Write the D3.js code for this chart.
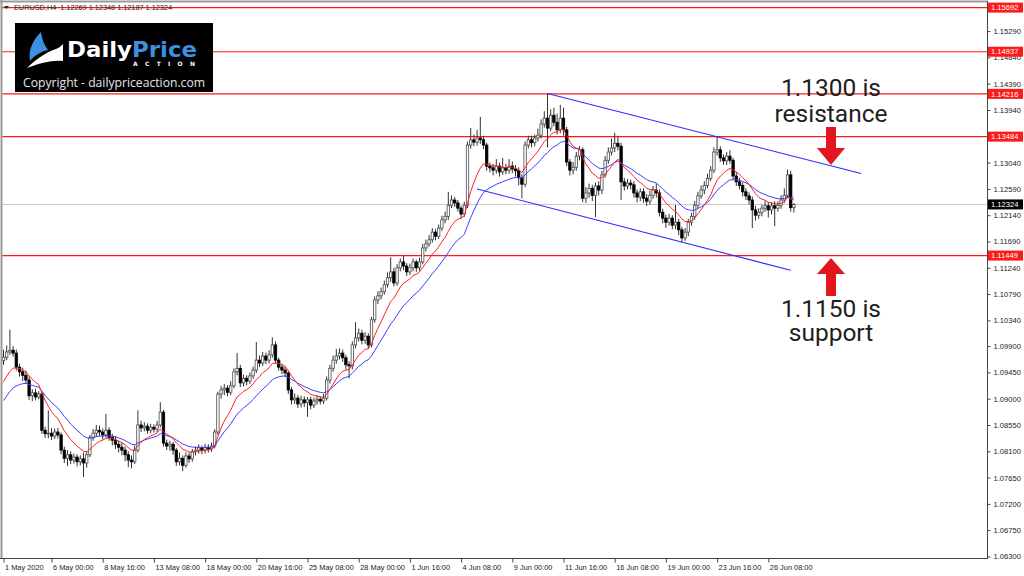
<!DOCTYPE html>
<html><head><meta charset="utf-8">
<script src="https://cdn.jsdelivr.net/npm/d3@7"></script>
<style>html,body{margin:0;padding:0;background:#fff;}svg{display:block;}</style>
</head><body>
<svg id="c" width="1024" height="576"></svg>
<script>
// ---------- DATA (EURUSD H4) ----------
const firstOpen = 1.0965;
const closePrice = [
1.0971,1.0980,1.0983,1.0978,1.0954,1.0946,1.0940,1.0932,1.0905,1.0910,
1.0903,1.0908,1.0846,1.0840,1.0841,1.0836,1.0843,1.0838,1.0812,1.0798,
1.0804,1.0795,1.0800,1.0792,1.0797,1.0790,1.0804,1.0833,1.0841,1.0846,
1.0843,1.0838,1.0846,1.0834,1.0829,1.0822,1.0817,1.0812,1.0804,1.0795,
1.0792,1.0812,1.0855,1.0850,1.0853,1.0846,1.0851,1.0848,1.0855,1.0877,
1.0824,1.0819,1.0822,1.0812,1.0792,1.0798,1.0786,1.0802,1.0797,1.0809,
1.0812,1.0816,1.0812,1.0817,1.0814,1.0819,1.0843,1.0908,1.0915,1.0918,
1.0911,1.0922,1.0946,1.0952,1.0927,1.0935,1.0930,1.0939,1.0949,1.0966,
1.0961,1.0973,1.0966,1.0975,1.0992,1.0966,1.0954,1.0949,1.0944,1.0915,
1.0898,1.0901,1.0891,1.0898,1.0893,1.0898,1.0889,1.0896,1.0899,1.0896,
1.0901,1.0932,1.0952,1.0966,1.0973,1.0978,1.0970,1.0958,1.0956,1.0992,
1.1004,1.1012,1.1000,1.1007,1.0992,1.1035,1.1069,1.1076,1.1083,1.1095,
1.1107,1.1117,1.1098,1.1124,1.1134,1.1127,1.1117,1.1124,1.1134,1.1124,
1.1134,1.1158,1.1165,1.1172,1.1185,1.1178,1.1192,1.1206,1.1212,1.1231,
1.1240,1.1235,1.1226,1.1216,1.1231,1.1334,1.1343,1.1339,1.1346,1.1343,
1.1334,1.1298,1.1295,1.1291,1.1298,1.1288,1.1295,1.1291,1.1298,1.1293,
1.1290,1.1278,1.1267,1.1334,1.1343,1.1338,1.1346,1.1351,1.1370,1.1380,
1.1363,1.1385,1.1373,1.1360,1.1380,1.1360,1.1305,1.1291,1.1296,1.1315,
1.1326,1.1243,1.1252,1.1260,1.1248,1.1264,1.1257,1.1283,1.1308,1.1322,
1.1329,1.1337,1.1332,1.1271,1.1264,1.1269,1.1266,1.1252,1.1245,1.1254,
1.1243,1.1238,1.1248,1.1257,1.1252,1.1219,1.1209,1.1202,1.1209,1.1197,
1.1202,1.1189,1.1175,1.1185,1.1202,1.1212,1.1231,1.1247,1.1257,1.1265,
1.1277,1.1291,1.1322,1.1326,1.1312,1.1307,1.1315,1.1308,1.1281,1.1271,
1.1265,1.1254,1.1247,1.1240,1.1223,1.1214,1.1219,1.1226,1.1230,1.1223,
1.1230,1.1226,1.1231,1.1240,1.1248,1.1283,1.12269,1.12324];
const highPrice = [
1.0984,1.0991,1.1018,1.0990,1.0984,1.0960,1.0953,1.0948,1.0938,1.0916,
1.0917,1.0913,1.0912,1.0852,1.0880,1.0850,1.0849,1.0850,1.0842,1.0818,
1.0812,1.0810,1.0806,1.0805,1.0803,1.0808,1.0810,1.0838,1.0848,1.0855,
1.0854,1.0849,1.0874,1.0851,1.0840,1.0836,1.0828,1.0825,1.0818,1.0810,
1.0803,1.0820,1.0880,1.0862,1.0860,1.0858,1.0857,1.0856,1.0862,1.0894,
1.0881,1.0830,1.0828,1.0826,1.0816,1.0808,1.0803,1.0808,1.0808,1.0814,
1.0818,1.0822,1.0820,1.0823,1.0822,1.0825,1.0848,1.0912,1.0922,1.0925,
1.0923,1.0930,1.0952,1.0978,1.0958,1.0941,1.0940,1.0945,1.0955,1.0997,
1.0974,1.0980,1.0979,1.0983,1.1005,1.0998,1.0970,1.0960,1.0955,1.0948,
1.0920,1.0909,1.0906,1.0905,1.0904,1.0903,1.0903,1.0902,1.0906,1.0904,
1.0908,1.0938,1.0958,1.0974,1.0985,1.0986,1.0984,1.0975,1.0964,1.0998,
1.1031,1.1020,1.1018,1.1014,1.1012,1.1040,1.1075,1.1084,1.1090,1.1102,
1.1116,1.1142,1.1124,1.1130,1.1140,1.1145,1.1132,1.1131,1.1140,1.1138,
1.1141,1.1165,1.1172,1.1180,1.1192,1.1190,1.1198,1.1213,1.1220,1.1254,
1.1248,1.1245,1.1240,1.1230,1.1237,1.1340,1.1363,1.1352,1.1360,1.1382,
1.1350,1.1338,1.1304,1.1302,1.1310,1.1304,1.1312,1.1302,1.1310,1.1306,
1.1300,1.1296,1.1284,1.1340,1.1350,1.1350,1.1352,1.1362,1.1378,1.1392,
1.1422,1.1395,1.1398,1.1388,1.1403,1.1398,1.1365,1.1310,1.1305,1.1322,
1.1332,1.1330,1.1262,1.1268,1.1266,1.1270,1.1272,1.1290,1.1315,1.1330,
1.1345,1.1355,1.1350,1.1338,1.1278,1.1276,1.1275,1.1272,1.1258,1.1260,
1.1260,1.1250,1.1256,1.1264,1.1268,1.1258,1.1225,1.1215,1.1216,1.1214,
1.1232,1.1208,1.1194,1.1192,1.1208,1.1218,1.1238,1.1254,1.1265,1.1272,
1.1285,1.1298,1.1330,1.1348,1.1332,1.1318,1.1322,1.1325,1.1312,1.1288,
1.1278,1.1270,1.1260,1.1253,1.1246,1.1230,1.1226,1.1232,1.1238,1.1236,
1.1236,1.1238,1.1238,1.1248,1.1260,1.1292,1.1290,1.12348];
const lowPrice = [
1.0958,1.0966,1.0975,1.0972,1.0948,1.0938,1.0930,1.0925,1.0898,1.0896,
1.0897,1.0899,1.0840,1.0833,1.0832,1.0829,1.0831,1.0832,1.0805,1.0790,
1.0785,1.0788,1.0789,1.0784,1.0786,1.0766,1.0782,1.0800,1.0828,1.0835,
1.0836,1.0830,1.0833,1.0828,1.0820,1.0814,1.0808,1.0803,1.0793,1.0783,
1.0781,1.0788,1.0808,1.0843,1.0844,1.0840,1.0841,1.0842,1.0843,1.0851,
1.0818,1.0812,1.0811,1.0804,1.0785,1.0786,1.0776,1.0782,1.0790,1.0792,
1.0803,1.0806,1.0805,1.0806,1.0808,1.0809,1.0815,1.0838,1.0900,1.0906,
1.0904,1.0906,1.0918,1.0940,1.0920,1.0921,1.0923,1.0925,1.0934,1.0944,
1.0954,1.0956,1.0959,1.0960,1.0970,1.0960,1.0948,1.0942,1.0937,1.0908,
1.0890,1.0891,1.0884,1.0885,1.0886,1.0869,1.0882,1.0884,1.0890,1.0890,
1.0891,1.0897,1.0926,1.0946,1.0960,1.0967,1.0963,1.0950,1.0935,1.0950,
1.0986,1.0998,1.0993,1.0994,1.0985,1.0988,1.1030,1.1062,1.1070,1.1078,
1.1090,1.1100,1.1092,1.1093,1.1118,1.1120,1.1110,1.1112,1.1118,1.1117,
1.1119,1.1130,1.1152,1.1160,1.1167,1.1171,1.1173,1.1187,1.1200,1.1206,
1.1226,1.1228,1.1220,1.1208,1.1211,1.1226,1.1328,1.1332,1.1333,1.1336,
1.1327,1.1290,1.1287,1.1282,1.1285,1.1280,1.1283,1.1284,1.1285,1.1286,
1.1280,1.1265,1.1243,1.1262,1.1328,1.1330,1.1332,1.1340,1.1345,1.1364,
1.1330,1.1358,1.1366,1.1352,1.1354,1.1350,1.1298,1.1282,1.1284,1.1290,
1.1308,1.1236,1.1235,1.1244,1.1238,1.1211,1.1248,1.1250,1.1278,1.1302,
1.1316,1.1322,1.1325,1.1240,1.1256,1.1258,1.1258,1.1244,1.1236,1.1238,
1.1235,1.1230,1.1232,1.1242,1.1244,1.1212,1.1200,1.1192,1.1196,1.1190,
1.1190,1.1180,1.1168,1.1170,1.1178,1.1196,1.1206,1.1226,1.1242,1.1250,
1.1260,1.1272,1.1286,1.1316,1.1305,1.1300,1.1300,1.1302,1.1275,1.1264,
1.1258,1.1246,1.1240,1.1232,1.1192,1.1205,1.1208,1.1212,1.1220,1.1210,
1.1215,1.1195,1.1220,1.1225,1.1235,1.1243,1.1220,1.12187];

const levels = [1.15692, 1.14937, 1.14216, 1.13484, 1.11449];
const currentPrice = 1.12324;
// 1.13490 is hidden behind the 1.13484 level tag in the reference
const yTicks = [1.15290,1.14840,1.14390,1.13940,1.13040,1.12590,1.12140,1.11690,1.11240,
  1.10790,1.10340,1.09900,1.09450,1.09000,1.08550,1.08100,1.07650,1.07200,1.06750,1.06300];
const xTickIdx = [0,15,31,47,63,79,95,111,127,143,159,175,191,207,223,239];
const xTickLabels = ["1 May 2020","6 May 00:00","8 May 16:00","13 May 08:00","18 May 00:00","20 May 16:00",
  "25 May 08:00","28 May 00:00","1 Jun 16:00","4 Jun 08:00","9 Jun 00:00","11 Jun 16:00",
  "16 Jun 08:00","19 Jun 00:00","23 Jun 16:00","26 Jun 08:00"];
const upperChannel = [[170, 1.14222], [268, 1.12853]];
const lowerChannel = [[148, 1.12588], [246, 1.11197]];
const emaFastPeriod = 10, emaSlowPeriod = 20;
const emaFastSeed = 1.0920, emaSlowSeed = 1.0889;
const headerText = "EURUSD,H4  1.12269 1.12348 1.12187 1.12324";
const notes = [
  {dir:"down", tip:1.1300, tail:1.13649, neck:1.13289, idx:258.6},
  {dir:"up", tip:1.11407, tail:1.10757, neck:1.11133, idx:258.6}
];
const textRows = [
  {t:"1.1300 is", yv:1.14179}, {t:"resistance", yv:1.13735},
  {t:"1.1150 is", yv:1.10397}, {t:"support", yv:1.09987}
];

// ---------- CHART ----------
const svg = d3.select("#c");
const L = 2, T = 2, R = 987, B = 558;
const N = closePrice.length;
const x = d3.scaleLinear().domain([0, N - 1]).range([3.5, 3.5 + (N - 1) * 3.2]);
const y = d3.scaleLinear().domain([1.06274, 1.15788]).range([B, T]);

svg.append("defs").append("clipPath").attr("id","clip")
  .append("rect").attr("x",L).attr("y",T).attr("width",R-L).attr("height",B-T);

svg.append("rect").attr("width",1024).attr("height",576).attr("fill","#fff");

const bars = closePrice.map((c,i)=>({i, o: i ? closePrice[i-1] : firstOpen, h: highPrice[i], l: lowPrice[i], c}));

const plot = svg.append("g").attr("clip-path","url(#clip)");

plot.append("line").attr("x1",L).attr("x2",R).attr("y1",y(currentPrice)).attr("y2",y(currentPrice))
  .attr("stroke","#c8c8c8").attr("stroke-width",1);

plot.selectAll("line.lvl").data(levels).join("line").attr("class","lvl")
  .attr("x1",L).attr("x2",R).attr("y1",d=>y(d)).attr("y2",d=>y(d))
  .attr("stroke","#ff1a1a").attr("stroke-width",1.2);

plot.selectAll("line.wick").data(bars).join("line").attr("class","wick")
  .attr("x1",d=>x(d.i)).attr("x2",d=>x(d.i)).attr("y1",d=>y(d.h)).attr("y2",d=>y(d.l))
  .attr("stroke","#333").attr("stroke-width",1);
const bw = 2.4;
plot.selectAll("rect.body").data(bars).join("rect").attr("class","body")
  .attr("x",d=>x(d.i)-bw/2).attr("y",d=>y(Math.max(d.o,d.c)))
  .attr("width",bw).attr("height",d=>Math.max(0.8, Math.abs(y(d.o)-y(d.c))))
  .attr("fill",d=>d.c>=d.o?"#fff":"#000")
  .attr("stroke",d=>d.c>=d.o?"#4a4a4a":"#000").attr("stroke-width",0.8);

function ema(vals, period, seed){ const k = 2/(period+1); let e = seed; return vals.map(v => (e = e + k*(v-e))); }
const line = d3.line().x((d,i)=>x(i)).y(d=>y(d));
plot.append("path").attr("d",line(ema(closePrice, emaSlowPeriod, emaSlowSeed)))
  .attr("fill","none").attr("stroke","#3c3cff").attr("stroke-width",1);
plot.append("path").attr("d",line(ema(closePrice, emaFastPeriod, emaFastSeed)))
  .attr("fill","none").attr("stroke","#ff2020").attr("stroke-width",1);

const cl = d3.line().x(d=>x(d[0])).y(d=>y(d[1]));
[upperChannel, lowerChannel].forEach(ch=>{
  plot.append("path").attr("d",cl(ch)).attr("fill","none").attr("stroke","#2a2aff").attr("stroke-width",1.1);
});

// frame
svg.append("line").attr("x1",0).attr("x2",R+1).attr("y1",1.5).attr("y2",1.5).attr("stroke","#9a9a9a").attr("stroke-width",2);
svg.append("line").attr("x1",1.5).attr("x2",1.5).attr("y1",0).attr("y2",B+1).attr("stroke","#9a9a9a").attr("stroke-width",2);
svg.append("line").attr("x1",R+0.5).attr("x2",R+0.5).attr("y1",1).attr("y2",B+1).attr("stroke","#444").attr("stroke-width",1);
svg.append("line").attr("x1",0).attr("x2",R+1).attr("y1",B+0.5).attr("y2",B+0.5).attr("stroke","#444").attr("stroke-width",1);

// axes
const axFont = "'Liberation Sans', Arial, sans-serif";
const yAxis = d3.axisRight(y).tickValues(yTicks).tickSize(3).tickPadding(3).tickFormat(d=>d.toFixed(5));
const yg = svg.append("g").attr("transform",`translate(${R+0.5},0)`).call(yAxis);
yg.select(".domain").remove();
yg.selectAll("line").attr("stroke","#444");
yg.selectAll("text").attr("font-family",axFont).attr("font-size",7.6).attr("fill","#222");

const xAxis = d3.axisBottom(x).tickValues(xTickIdx).tickSize(4).tickFormat((d,i)=>xTickLabels[i]);
const xg = svg.append("g").attr("transform",`translate(0,${B+0.5})`).call(xAxis);
xg.select(".domain").remove();
xg.selectAll("line").attr("stroke","#444");
xg.selectAll("text").attr("font-family",axFont).attr("font-size",7.4).attr("fill","#222")
  .attr("text-anchor","start").attr("dx",1).attr("dy","0.55em");

function priceTag(v, bg){
  const g = svg.append("g");
  g.append("rect").attr("x",R+1).attr("y",y(v)-5).attr("width",35).attr("height",10).attr("fill",bg);
  g.append("text").attr("x",R+4).attr("y",y(v)).attr("dy","0.35em").text(v.toFixed(5))
    .attr("font-family",axFont).attr("font-size",7.6).attr("fill","#fff");
}
levels.forEach(v=>priceTag(v,"#ff1a1a"));
priceTag(currentPrice,"#000");

// header
svg.append("path").attr("d","M4,6 L9,6 L6.5,9 Z").attr("fill","#222");
svg.append("text").attr("x",14).attr("y",10).text(headerText)
  .attr("font-family",axFont).attr("font-size",7.5).attr("fill","#222")
  .attr("textLength",158).attr("lengthAdjust","spacingAndGlyphs").attr("xml:space","preserve");

// logo
const lg = svg.append("g");
lg.append("rect").attr("x",15).attr("y",23).attr("width",198).attr("height",69).attr("fill","#000");
lg.append("path").attr("d","M41,32 C33,40 28,50 30,61 C34,56 40,52 48,50 C44,45 42,39 41,32 Z").attr("fill","#3d8fe0");
lg.append("path").attr("d","M27,68 C37,58 47,52 56,49 C59,48 61,46 63,44 L63,61 C52,60 40,63 27,68 Z").attr("fill","#fff");
const lt = lg.append("text").attr("x",67).attr("y",57).attr("font-family","'DejaVu Sans', sans-serif")
  .attr("font-weight","bold").attr("font-size",22).attr("textLength",130).attr("lengthAdjust","spacingAndGlyphs");
lt.append("tspan").text("Daily").attr("fill","#fff");
lt.append("tspan").text("Price").attr("fill","#3d8fe0");
lg.append("text").attr("x",133).attr("y",66).text("ACTION").attr("font-family","'DejaVu Sans', sans-serif")
  .attr("font-weight","bold").attr("font-size",6).attr("fill","#fff")
  .attr("textLength",62).attr("lengthAdjust","spacing");
lg.append("text").attr("x",23).attr("y",87).text("Copyright - dailypriceaction.com")
  .attr("font-family","'Open Sans', sans-serif").attr("font-size",12.5).attr("fill","#e6e6e6")
  .attr("textLength",182).attr("lengthAdjust","spacingAndGlyphs");

// annotations
const ag = svg.append("g");
notes.forEach(n=>{
  const cx = x(n.idx);
  const tipY = y(n.tip), neckY = y(n.neck), tailY = y(n.tail);
  const sw = 5, hw = 14;
  const p = d3.path();
  p.moveTo(cx-sw, tailY); p.lineTo(cx+sw, tailY); p.lineTo(cx+sw, neckY); p.lineTo(cx+hw, neckY);
  p.lineTo(cx, tipY); p.lineTo(cx-hw, neckY); p.lineTo(cx-sw, neckY); p.closePath();
  ag.append("path").attr("d",p.toString()).attr("fill","#e3161d");
});
ag.selectAll("text").data(textRows).join("text")
  .attr("x",x(258.6)).attr("y",d=>y(d.yv)).attr("text-anchor","middle").text(d=>d.t)
  .attr("font-family","Roboto, sans-serif").attr("font-size",24.5).attr("fill","#1e1e1e");
</script>
</body></html>
